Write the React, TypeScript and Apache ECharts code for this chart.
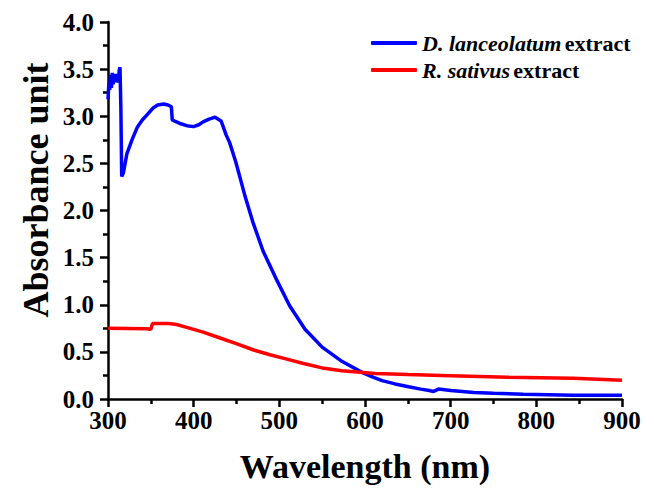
import React, { useEffect, useRef } from "react";
import * as echarts from "echarts";

const dWl = [300, 301, 302, 303, 304, 305, 306, 307, 308, 309, 310, 311, 312, 313, 314, 315, 316, 318, 322, 328, 334, 340, 345, 353, 358, 365, 370, 374, 375, 380, 385, 392, 400, 406, 411, 418, 425, 432, 438, 442, 449, 455, 460, 469, 481, 496, 512, 530, 550, 573, 597, 610, 620, 635, 651, 665, 675, 680, 686, 700, 727, 750, 785, 843, 870, 900];
const dAbs = [3.18, 3.35, 3.28, 3.44, 3.3, 3.46, 3.34, 3.42, 3.36, 3.45, 3.38, 3.4, 3.36, 3.48, 3.52, 3.1, 2.36, 2.4, 2.6, 2.75, 2.88, 2.96, 3.01, 3.09, 3.12, 3.13, 3.12, 3.1, 2.96, 2.94, 2.92, 2.9, 2.89, 2.91, 2.94, 2.97, 2.99, 2.95, 2.8, 2.72, 2.52, 2.32, 2.15, 1.88, 1.57, 1.28, 0.99, 0.74, 0.55, 0.4, 0.28, 0.23, 0.195, 0.16, 0.13, 0.105, 0.09, 0.08, 0.105, 0.09, 0.07, 0.06, 0.05, 0.04, 0.04, 0.04];
const rWl = [300, 345, 350, 352, 371, 380, 392, 411, 430, 449, 470, 489, 510, 527, 550, 573, 612, 650, 689, 767, 843, 900];
const rAbs = [0.75, 0.745, 0.74, 0.8, 0.8, 0.79, 0.76, 0.71, 0.65, 0.59, 0.52, 0.47, 0.42, 0.38, 0.33, 0.3, 0.27, 0.26, 0.25, 0.23, 0.22, 0.2];

const seriesNames = ["D. lanceolatum extract", "R. sativus extract"];
const xTitle = "Wavelength (nm)";
const yTitle = "Absorbance unit";

const FONT = "'Liberation Serif', 'Times New Roman', serif";

export default function App() {
  const ref = useRef<HTMLDivElement>(null);
  useEffect(() => {
    if (!ref.current) return;
    const chart = echarts.init(ref.current, undefined, { renderer: "svg" });
    const pairs = (xs: number[], ys: number[]) => xs.map((x, i) => [x, ys[i]]);
    chart.setOption({
      animation: false,
      backgroundColor: "#fff",
      grid: { left: 108, right: 23, top: 22, bottom: 85 },
      graphic: [
        {
          type: "text",
          x: 36,
          y: 190,
          rotation: Math.PI / 2,
          style: {
            text: yTitle,
            fontFamily: FONT,
            fontWeight: "bold",
            fontSize: 36,
            fill: "#000",
            align: "center",
            verticalAlign: "middle",
          },
        },
      ],
      legend: {
        left: 366,
        top: 27,
        orient: "vertical",
        align: "left",
        icon: "roundRect",
        itemWidth: 46,
        itemHeight: 4,
        itemGap: 5,
        data: seriesNames,
        formatter: (name: string) => {
          const parts = name.split(" extract");
          return `{i|${parts[0]}} {b|extract}`;
        },
        textStyle: {
          rich: {
            i: { fontFamily: FONT, fontWeight: "bold", fontStyle: "italic", fontSize: 22, lineHeight: 22, color: "#000" },
            b: { fontFamily: FONT, fontWeight: "bold", fontSize: 22, lineHeight: 22, color: "#000" },
          },
        },
      },
      xAxis: {
        type: "value",
        min: 300,
        max: 900,
        interval: 100,
        name: xTitle,
        nameLocation: "middle",
        nameGap: 50,
        nameTextStyle: { fontFamily: FONT, fontWeight: "bold", fontSize: 34, color: "#000" },
        axisLine: { show: true, lineStyle: { color: "#000", width: 2.5 } },
        axisTick: { show: true, length: 8, lineStyle: { color: "#000", width: 2.5 } },
        minorTick: { show: true, splitNumber: 2, length: 5, lineStyle: { color: "#000", width: 2.5 } },
        splitLine: { show: false },
        axisLabel: { fontFamily: FONT, fontWeight: "bold", fontSize: 25, color: "#000", margin: 9 },
      },
      yAxis: {
        type: "value",
        min: 0,
        max: 4,
        interval: 0.5,
        axisLine: { show: true, lineStyle: { color: "#000", width: 2.5 } },
        axisTick: { show: true, length: 8, lineStyle: { color: "#000", width: 2.5 } },
        minorTick: { show: true, splitNumber: 2, length: 5, lineStyle: { color: "#000", width: 2.5 } },
        splitLine: { show: false },
        axisLabel: { fontFamily: FONT, fontWeight: "bold", fontSize: 25, color: "#000", margin: 14, formatter: (v: number) => v.toFixed(1) },
      },
      series: [
        {
          name: seriesNames[0],
          type: "line",
          data: pairs(dWl, dAbs),
          showSymbol: false,
          symbol: "none",
          lineStyle: { color: "#0000ff", width: 3.5 },
          itemStyle: { color: "#0000ff" },
        },
        {
          name: seriesNames[1],
          type: "line",
          data: pairs(rWl, rAbs),
          showSymbol: false,
          symbol: "none",
          lineStyle: { color: "#ff0000", width: 3.5 },
          itemStyle: { color: "#ff0000" },
        },
      ],
    });
    return () => chart.dispose();
  }, []);
  return <div ref={ref} style={{ width: 645, height: 488, position: "absolute", left: 0, top: 0 }} />;
}
